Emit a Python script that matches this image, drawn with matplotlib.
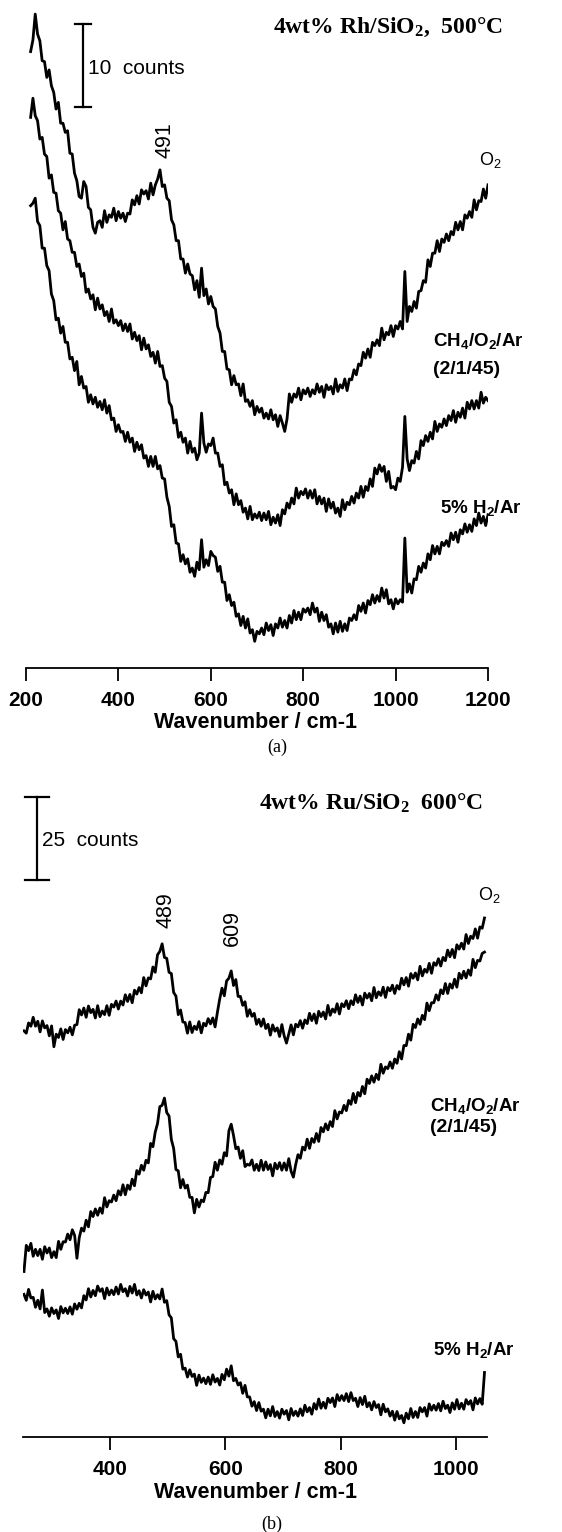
import numpy as np
import matplotlib
matplotlib.use('Agg')
import matplotlib.pyplot as plt

# Raman spectra (counts, arbitrary offset)
# panel (a): 4wt% Rh/SiO2 at 500 C, one value every 5 cm-1
wn_a = np.arange(210, 1201, 5)
rh_o2 = [74.0, 75.4, 78.5, 76.1, 75.3, 72.9, 72.8, 70.9, 71.8, 69.9,
         69.1, 67.1, 67.9, 65.4, 65.4, 64.3, 64.5, 61.8, 61.7, 59.4,
         58.5, 56.6, 56.4, 58.4, 57.8, 55.3, 55.0, 52.9, 52.2, 53.5,
         53.7, 52.9, 54.9, 53.5, 54.4, 54.1, 55.2, 53.7, 54.8, 54.0,
         54.6, 53.6, 54.6, 54.5, 56.2, 55.6, 56.7, 55.7, 57.4, 56.9,
         57.3, 56.3, 58.2, 56.8, 58.0, 58.7, 59.8, 57.8, 58.0, 56.4,
         56.1, 53.8, 53.2, 51.3, 51.3, 49.1, 49.1, 47.4, 48.5, 47.3,
         47.1, 45.4, 46.5, 44.5, 48.0, 44.7, 45.5, 43.7, 44.6, 43.4,
         43.1, 41.0, 40.2, 38.0, 38.0, 35.9, 35.8, 34.0, 35.1, 34.0,
         34.1, 32.7, 34.1, 32.0, 32.2, 31.4, 32.1, 30.4, 31.4, 30.7,
         31.2, 30.0, 30.6, 29.9, 31.0, 29.8, 30.4, 29.0, 30.3, 29.4,
         28.4, 29.9, 32.9, 31.9, 32.9, 32.5, 33.6, 32.2, 33.4, 32.9,
         33.6, 32.6, 33.4, 32.9, 34.1, 33.1, 33.8, 32.5, 34.0, 33.4,
         33.8, 32.9, 34.7, 33.2, 34.0, 33.6, 34.7, 33.3, 34.7, 34.6,
         35.8, 35.2, 36.5, 36.3, 37.9, 37.2, 38.3, 37.3, 39.1, 38.7,
         39.4, 38.7, 40.8, 39.4, 40.3, 40.0, 41.1, 39.8, 41.1, 40.7,
         41.6, 40.7, 47.6, 41.6, 43.4, 42.8, 44.0, 43.2, 45.2, 45.3,
         46.5, 46.3, 49.0, 48.2, 49.8, 49.8, 51.3, 50.0, 51.5, 51.1,
         52.1, 51.3, 52.4, 52.0, 53.5, 52.6, 53.6, 52.6, 54.4, 54.0,
         54.8, 54.1, 56.2, 55.0, 56.1, 56.0, 57.5, 56.4, 58.0]
rh_ch4 = [66.1, 68.4, 66.3, 65.7, 63.5, 63.7, 61.7, 61.4, 58.8, 59.2,
          57.1, 57.0, 54.9, 54.6, 52.6, 53.6, 51.5, 51.3, 49.9, 49.9,
          48.2, 48.5, 47.0, 47.4, 45.1, 45.5, 44.3, 44.8, 43.0, 44.4,
          43.1, 43.6, 42.3, 42.8, 41.6, 43.1, 41.4, 41.8, 41.1, 41.7,
          40.5, 41.3, 40.4, 41.3, 39.5, 40.3, 39.3, 39.9, 38.2, 39.6,
          38.3, 38.8, 37.4, 37.9, 36.6, 38.0, 36.2, 36.3, 34.8, 34.4,
          31.9, 31.4, 29.4, 29.8, 27.7, 28.3, 27.1, 27.6, 25.8, 27.2,
          25.9, 26.4, 25.0, 25.8, 30.6, 27.0, 25.9, 26.9, 26.7, 27.6,
          25.8, 25.8, 24.2, 24.4, 22.0, 22.3, 21.0, 21.4, 19.6, 20.9,
          19.6, 20.1, 18.7, 19.2, 17.9, 19.4, 17.8, 18.5, 18.0, 18.7,
          17.7, 18.6, 17.8, 18.8, 17.2, 18.1, 17.4, 18.4, 17.1, 19.0,
          18.5, 19.8, 19.2, 20.4, 19.7, 21.6, 20.4, 21.2, 20.8, 21.5,
          20.4, 21.3, 20.4, 21.4, 19.7, 20.6, 19.7, 20.4, 18.8, 20.3,
          19.2, 19.9, 18.6, 19.2, 18.2, 20.2, 19.0, 19.9, 19.6, 20.6,
          19.8, 21.0, 20.4, 21.8, 20.5, 21.8, 21.3, 22.7, 21.8, 24.0,
          23.3, 24.4, 23.6, 24.2, 22.4, 23.6, 21.6, 21.8, 21.4, 22.8,
          22.4, 24.1, 30.2, 25.1, 23.7, 24.9, 24.6, 26.0, 25.1, 27.3,
          26.7, 27.9, 27.2, 28.3, 27.5, 29.6, 28.4, 29.3, 28.9, 29.9,
          29.1, 30.3, 29.7, 30.9, 29.5, 30.7, 30.1, 31.2, 30.0, 31.9,
          31.1, 32.1, 31.1, 32.1, 31.2, 33.1, 31.8, 32.5, 32.1]
rh_h2 = [55.5, 55.8, 56.4, 53.6, 53.1, 50.4, 50.4, 48.3, 47.7, 44.9,
         44.1, 41.8, 42.0, 40.2, 41.0, 39.1, 39.1, 37.1, 37.3, 35.7,
         36.8, 34.0, 35.0, 33.6, 33.8, 31.9, 32.8, 31.7, 32.5, 31.3,
         32.0, 31.0, 32.2, 30.6, 31.5, 29.8, 30.0, 28.4, 29.2, 28.3,
         28.4, 27.2, 28.3, 27.1, 27.6, 26.0, 27.1, 26.2, 26.8, 25.2,
         25.5, 24.2, 25.4, 24.2, 25.4, 23.9, 24.3, 22.8, 22.7, 20.5,
         19.4, 17.0, 17.2, 15.0, 14.9, 12.8, 13.6, 12.5, 13.1, 11.5,
         12.0, 11.0, 12.7, 11.8, 15.4, 12.1, 13.0, 12.3, 14.0, 13.5,
         13.3, 11.6, 12.2, 10.3, 10.3, 8.1, 8.8, 7.5, 7.9, 6.2,
         6.5, 5.1, 6.2, 4.8, 5.9, 4.2, 4.6, 3.2, 4.4, 4.1,
         4.8, 4.0, 5.4, 4.5, 5.2, 3.9, 5.3, 4.8, 6.0, 4.9,
         5.7, 4.8, 6.3, 5.4, 6.9, 5.8, 6.7, 5.8, 7.1, 6.7,
         7.2, 6.4, 7.8, 6.7, 7.2, 5.6, 6.7, 5.7, 6.4, 4.9,
         5.3, 4.1, 5.4, 4.3, 5.6, 4.4, 5.3, 4.5, 6.0, 5.7,
         6.4, 5.8, 7.5, 6.8, 7.8, 6.6, 8.1, 7.6, 8.8, 7.8,
         8.7, 8.0, 9.6, 8.4, 9.4, 7.7, 8.2, 7.1, 8.3, 7.7,
         8.2, 7.9, 15.6, 9.1, 10.1, 9.0, 10.7, 10.6, 12.2, 11.5,
         12.6, 12.0, 13.7, 13.0, 14.7, 13.7, 14.6, 13.7, 15.1, 14.7,
         15.3, 14.6, 16.2, 15.4, 16.3, 15.1, 16.6, 16.1, 17.3, 16.3,
         17.2, 16.4, 17.9, 17.1, 18.6, 17.4, 18.2, 17.1, 18.4]

# panel (b): 4wt% Ru/SiO2 at 600 C, one value every 4 cm-1
wn_b = np.arange(250, 1051, 4)
ru_o2 = [122.7, 122.0, 125.1, 124.1, 126.8, 124.1, 125.6, 122.4, 125.7, 123.6,
         124.3, 121.2, 124.2, 117.9, 121.7, 120.7, 123.3, 120.1, 123.1, 122.1,
         123.8, 121.5, 124.4, 124.6, 129.1, 127.5, 129.6, 126.8, 130.2, 128.2,
         129.2, 126.6, 130.3, 127.0, 128.7, 127.6, 130.3, 127.4, 130.7, 129.9,
         131.7, 129.3, 131.7, 130.5, 133.6, 131.6, 133.7, 131.2, 135.0, 133.8,
         135.8, 134.2, 138.8, 136.3, 138.7, 138.4, 142.0, 140.4, 145.7, 146.7,
         149.0, 144.9, 144.6, 140.4, 140.0, 134.3, 133.2, 127.6, 129.0, 125.4,
         125.2, 122.0, 125.4, 122.2, 124.1, 123.1, 125.5, 122.1, 125.0, 124.2,
         126.4, 124.8, 126.6, 123.9, 128.3, 132.3, 135.6, 133.3, 137.8, 138.6,
         140.8, 136.4, 138.2, 133.1, 133.1, 130.4, 131.5, 127.1, 129.1, 127.1,
         128.0, 124.7, 126.2, 124.1, 126.3, 123.4, 124.7, 121.4, 124.5, 122.6,
         123.6, 121.0, 124.6, 121.2, 119.0, 121.8, 124.5, 121.5, 124.7, 123.9,
         125.8, 123.5, 126.0, 124.9, 128.0, 125.8, 127.8, 125.0, 128.6, 127.0,
         128.4, 126.3, 130.4, 127.4, 129.3, 128.3, 130.9, 127.8, 130.9, 130.0,
         131.8, 129.4, 131.8, 130.6, 133.6, 131.3, 133.2, 130.5, 134.1, 132.6,
         134.0, 131.8, 135.8, 132.7, 134.5, 133.4, 135.9, 132.8, 135.8, 134.8,
         136.5, 134.0, 136.4, 135.3, 138.6, 136.6, 138.8, 136.2, 140.0, 138.6,
         140.2, 138.1, 142.2, 139.3, 141.3, 140.4, 143.1, 140.1, 143.3, 142.5,
         144.5, 142.3, 144.9, 143.9, 147.1, 145.1, 147.3, 144.8, 148.7, 147.4,
         149.2, 147.4, 151.8, 149.1, 151.3, 150.6, 153.5, 150.7, 154.1, 153.7,
         156.8]
ru_ch4 = [50.0, 57.9, 56.3, 58.5, 54.6, 56.7, 54.8, 56.7, 53.7, 57.5,
          55.6, 57.1, 54.2, 56.0, 54.2, 59.1, 56.7, 59.0, 58.9, 61.3,
          59.6, 62.6, 60.9, 54.0, 60.2, 63.1, 62.2, 65.5, 63.5, 68.1,
          66.6, 68.9, 67.0, 69.2, 67.6, 72.3, 69.5, 71.4, 71.0, 73.1,
          71.4, 74.4, 73.1, 76.2, 73.2, 76.1, 74.8, 77.9, 75.9, 80.5,
          79.4, 82.1, 80.6, 83.6, 82.8, 88.7, 87.7, 92.1, 94.7, 99.8,
          100.2, 102.4, 98.0, 97.0, 89.9, 87.2, 80.8, 80.4, 75.3, 77.8,
          75.2, 76.1, 72.4, 72.4, 67.7, 71.8, 69.5, 71.6, 71.1, 73.9,
          73.8, 78.4, 78.7, 83.0, 80.6, 83.7, 82.4, 85.9, 84.9, 92.5,
          94.5, 91.1, 87.1, 87.6, 84.2, 86.5, 81.7, 82.4, 82.1, 83.7,
          80.6, 82.4, 80.5, 83.6, 80.6, 83.1, 80.8, 82.3, 78.9, 82.7,
          81.0, 82.9, 80.6, 82.8, 80.6, 84.1, 80.3, 78.5, 82.3, 85.3,
          84.2, 87.6, 86.7, 90.0, 87.2, 90.2, 89.0, 91.7, 89.3, 93.5,
          92.2, 94.6, 92.8, 95.3, 93.8, 98.6, 96.1, 98.2, 97.9, 100.2,
          98.6, 101.7, 100.5, 103.8, 101.0, 104.1, 103.0, 105.9, 103.7, 108.1,
          106.8, 109.1, 107.2, 109.6, 108.0, 112.6, 109.9, 111.8, 111.3, 113.3,
          111.4, 114.2, 112.9, 116.4, 114.2, 118.3, 118.2, 121.7, 119.9, 124.7,
          123.7, 126.3, 124.7, 127.4, 126.1, 131.1, 128.8, 131.2, 131.2, 133.6,
          132.0, 135.1, 133.9, 137.0, 134.0, 136.9, 135.6, 138.3, 135.9, 140.1,
          138.5, 140.7, 138.7, 141.1, 139.5, 144.3, 141.8, 144.0, 143.8, 146.1,
          146.5]
ru_h2 = [43.1, 41.3, 44.6, 42.0, 42.2, 39.2, 41.3, 38.7, 44.4, 37.6,
         38.7, 36.5, 39.0, 37.3, 38.4, 35.8, 39.4, 37.5, 38.9, 37.3,
         39.3, 37.1, 40.2, 38.6, 40.4, 39.0, 42.7, 41.4, 44.8, 42.3,
         44.3, 42.7, 45.6, 44.0, 44.8, 41.8, 45.0, 42.9, 44.4, 43.0,
         45.3, 43.2, 46.1, 43.9, 44.8, 42.6, 45.5, 43.5, 46.1, 42.9,
         44.2, 42.0, 44.5, 42.9, 43.8, 40.8, 44.0, 41.7, 43.0, 41.7,
         44.7, 40.7, 41.2, 36.9, 36.0, 29.7, 28.9, 24.2, 25.0, 20.5,
         20.8, 18.1, 20.3, 18.3, 19.0, 15.6, 18.7, 16.5, 17.8, 16.1,
         18.1, 15.9, 18.8, 16.6, 17.7, 15.7, 18.9, 17.3, 20.5, 18.4,
         21.5, 17.0, 17.7, 15.7, 16.4, 13.2, 15.6, 12.1, 12.1, 9.3,
         10.7, 8.0, 10.4, 7.8, 8.4, 5.8, 8.4, 6.4, 9.2, 6.2,
         7.7, 5.7, 8.4, 6.9, 8.0, 5.2, 8.6, 6.5, 7.8, 6.3,
         8.5, 6.5, 9.6, 7.6, 8.9, 6.9, 10.1, 8.4, 11.5, 8.7,
         10.5, 8.7, 11.7, 10.4, 11.8, 9.2, 12.8, 11.0, 12.5, 11.0,
         13.1, 10.7, 13.4, 11.0, 11.7, 9.2, 11.9, 9.8, 12.3, 9.1,
         10.4, 8.2, 10.7, 8.9, 9.8, 6.7, 9.9, 7.6, 8.5, 6.3,
         7.8, 5.1, 7.7, 5.5, 6.5, 4.3, 7.2, 5.5, 8.6, 5.9,
         7.7, 5.9, 8.9, 7.6, 8.9, 6.3, 10.0, 8.1, 9.6, 8.1,
         10.1, 7.9, 10.8, 8.6, 9.6, 7.4, 10.3, 8.4, 11.3, 8.5,
         10.2, 8.4, 11.3, 9.9, 11.0, 8.2, 11.8, 10.0, 11.6, 9.9,
         19.5]

ticks_a = [200, 400, 600, 800, 1000, 1200]
ticks_b = [400, 600, 800, 1000]

W, H = 562, 1532
SANS = 'Liberation Sans'
SERIF = 'Liberation Serif'


def fpos(x, y):
    # pixel position (from top-left) -> figure fraction
    return x / W, 1 - y / H


def style_axis(ax, ticks):
    for side in ['left', 'right', 'top']:
        ax.spines[side].set_visible(False)
    ax.spines['bottom'].set_linewidth(1.3)
    ax.set_yticks([])
    ax.set_xticks(ticks)
    ax.tick_params(axis='x', direction='out', length=9.5, width=1.3, pad=7)
    for lab in ax.get_xticklabels():
        lab.set_fontfamily(SANS)
        lab.set_fontweight('bold')
        lab.set_fontsize(15)


fig = plt.figure(figsize=(W / 100, H / 100), dpi=100)

# ---- panel (a) ----
ax_a = fig.add_axes([26 / W, 1 - 668 / H, 462 / W, 668 / H])
ax_a.set_xlim(200, 1200)
ax_a.set_ylim(0, 668 / 8.33)
for y in (rh_o2, rh_ch4, rh_h2):
    ax_a.plot(wn_a, y, color='black', lw=2.0)
style_axis(ax_a, ticks_a)
ax_a.plot([323, 323], [67.3, 77.3], color='black', lw=1.6)
ax_a.plot([306, 340], [77.3, 77.3], color='black', lw=1.6)
ax_a.plot([306, 340], [67.3, 67.3], color='black', lw=1.6)

fig.text(*fpos(503, 27), '4wt% Rh/SiO$\\mathregular{_2}$,  500°C', family=SERIF,
         weight='bold', fontsize=17, ha='right', va='center')
fig.text(*fpos(88, 69), '10  counts', family=SANS, fontsize=15, ha='left', va='center')
fig.text(*fpos(165, 140), '491', family=SANS, fontsize=15.5, rotation=90, ha='center', va='center')
fig.text(*fpos(490, 160), 'O$\\mathregular{_2}$', family=SANS, fontsize=13, ha='center', va='center')
fig.text(*fpos(433, 341), 'CH$\\mathregular{_4}$/O$\\mathregular{_2}$/Ar', family=SANS,
         weight='bold', fontsize=13.5, ha='left', va='center')
fig.text(*fpos(433, 369), '(2/1/45)', family=SANS, weight='bold', fontsize=14, ha='left', va='center')
fig.text(*fpos(440, 508), '5% H$\\mathregular{_2}$/Ar', family=SANS, weight='bold',
         fontsize=13.5, ha='left', va='center')
fig.text(*fpos(255, 722), 'Wavenumber / cm-1', family=SANS, weight='bold', fontsize=15.5,
         ha='center', va='center')
fig.text(*fpos(277, 747), '(a)', family=SERIF, fontsize=13, ha='center', va='center')

# ---- panel (b) ----
ax_b = fig.add_axes([23.4 / W, 1 - 1437 / H, 463.4 / W, 677 / H])
ax_b.set_xlim(249, 1054)
ax_b.set_ylim(0, 677 / 3.31)
for y in (ru_o2, ru_ch4, ru_h2):
    ax_b.plot(wn_b, y, color='black', lw=2.0)
style_axis(ax_b, ticks_b)
ax_b.plot([273, 273], [168.4, 193.4], color='black', lw=1.6)
ax_b.plot([252, 294], [193.4, 193.4], color='black', lw=1.6)
ax_b.plot([252, 294], [168.4, 168.4], color='black', lw=1.6)

fig.text(*fpos(483, 803), '4wt% Ru/SiO$\\mathregular{_2}$  600°C', family=SERIF,
         weight='bold', fontsize=17, ha='right', va='center')
fig.text(*fpos(42, 841), '25  counts', family=SANS, fontsize=15, ha='left', va='center')
fig.text(*fpos(166, 910), '489', family=SANS, fontsize=15.5, rotation=90, ha='center', va='center')
fig.text(*fpos(232, 928), '609', family=SANS, fontsize=15.5, rotation=90, ha='center', va='center')
fig.text(*fpos(489, 895), 'O$\\mathregular{_2}$', family=SANS, fontsize=13, ha='center', va='center')
fig.text(*fpos(430, 1106), 'CH$\\mathregular{_4}$/O$\\mathregular{_2}$/Ar', family=SANS,
         weight='bold', fontsize=13.5, ha='left', va='center')
fig.text(*fpos(430, 1128), '(2/1/45)', family=SANS, weight='bold', fontsize=14, ha='left', va='center')
fig.text(*fpos(433, 1350), '5% H$\\mathregular{_2}$/Ar', family=SANS, weight='bold',
         fontsize=13.5, ha='left', va='center')
fig.text(*fpos(255, 1493), 'Wavenumber / cm-1', family=SANS, weight='bold', fontsize=15.5,
         ha='center', va='center')
fig.text(*fpos(272, 1524), '(b)', family=SERIF, fontsize=13, ha='center', va='center')

fig.savefig('out.png', dpi=100, facecolor='white')
